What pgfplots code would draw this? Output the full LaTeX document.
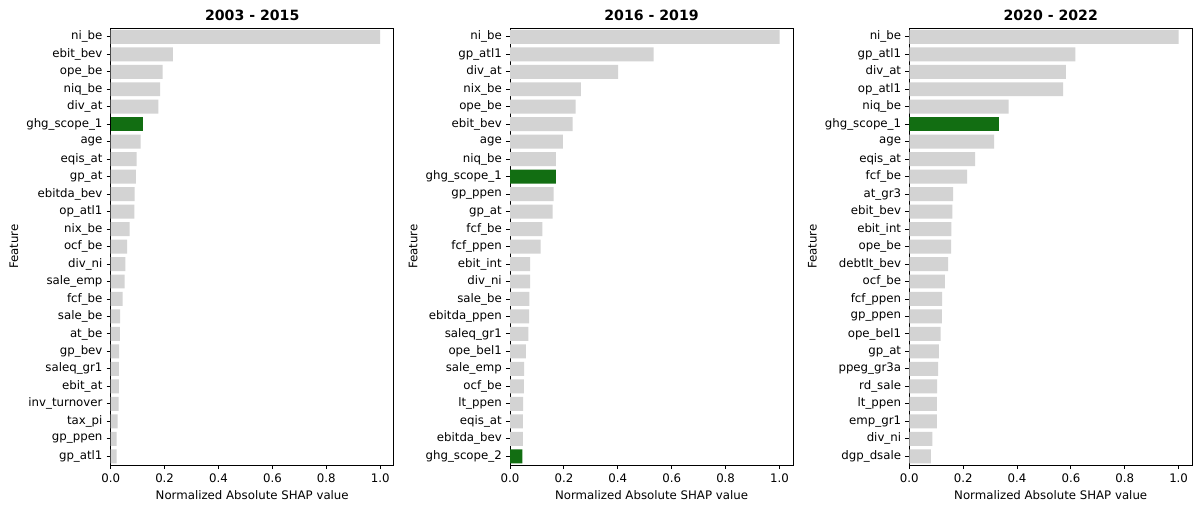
\documentclass[border=0pt]{standalone}
\usepackage{pgfplots}
\pgfplotsset{compat=1.18}
\usepackage{fontspec}
\setmainfont{DejaVu Sans}
\definecolor{barg}{RGB}{211,211,211}
\definecolor{hl}{RGB}{18,110,18}
\pgfplotsset{
  shap/.style={
    scale only axis,
    width=240.5pt, height=371.4pt,
    anchor=south west,
    xbar, bar width=0.8, bar shift=0pt,
    xmin=0, xmax=1.05,
    ymin=-0.5, ymax=24.5,
    y dir=reverse,
    ytick={0,...,24},
    xtick={0,0.2,0.4,0.6,0.8,1.0},
    xticklabel style={/pgf/number format/.cd, fixed, fixed zerofill, precision=1},
    /pgf/number format/assume math mode=true,
    tick align=outside,
    tick pos=left,
    major tick length=3.5pt,
    axis line style={line width=0.8pt},
    every tick/.style={line width=0.8pt, black},
    tick label style={font=\fontsize{10}{12}\selectfont},
    xlabel={Normalized Absolute SHAP value},
    ylabel={Feature},
    label style={font=\fontsize{10}{12}\selectfont},
    title style={font=\bfseries\fontsize{12}{14}\selectfont, at={(0.5,1)}, anchor=south, yshift=-3.5pt},
    every axis plot/.append style={draw=none},
  }
}
\begin{document}
\begin{tikzpicture}
\useasboundingbox (0,0) rectangle (1014pt,429.25pt);
% Panel 1
\begin{axis}[shap, at={(94.1pt,34pt)}, title={2003 - 2015},
  yticklabels={ni\_be,ebit\_bev,ope\_be,niq\_be,div\_at,ghg\_scope\_1,age,eqis\_at,gp\_at,ebitda\_bev,op\_atl1,nix\_be,ocf\_be,div\_ni,sale\_emp,fcf\_be,sale\_be,at\_be,gp\_bev,saleq\_gr1,ebit\_at,inv\_turnover,tax\_pi,gp\_ppen,gp\_atl1}]
\addplot[fill=barg] coordinates {(1.0,0) (0.231,1) (0.193,2) (0.183,3) (0.177,4) (0.111,6) (0.0965,7) (0.093,8) (0.089,9) (0.088,10) (0.0705,11) (0.0605,12) (0.054,13) (0.052,14) (0.0445,15) (0.0345,16) (0.034,17) (0.031,18) (0.0305,19) (0.030,20) (0.0295,21) (0.026,22) (0.022,23) (0.0215,24)};
\addplot[fill=hl] coordinates {(0.119,5)};
\end{axis}
% Panel 2
\begin{axis}[shap, at={(433.5pt,34pt)}, title={2016 - 2019},
  yticklabels={ni\_be,gp\_atl1,div\_at,nix\_be,ope\_be,ebit\_bev,age,niq\_be,ghg\_scope\_1,gp\_ppen,gp\_at,fcf\_be,fcf\_ppen,ebit\_int,div\_ni,sale\_be,ebitda\_ppen,saleq\_gr1,ope\_bel1,sale\_emp,ocf\_be,lt\_ppen,eqis\_at,ebitda\_bev,ghg\_scope\_2}]
\addplot[fill=barg] coordinates {(1.0,0) (0.533,1) (0.401,2) (0.263,3) (0.243,4) (0.232,5) (0.196,6) (0.170,7) (0.162,9) (0.158,10) (0.120,11) (0.1135,12) (0.075,13) (0.0745,14) (0.0715,15) (0.071,16) (0.068,17) (0.059,18) (0.052,19) (0.051,20) (0.049,21) (0.048,22) (0.048,23)};
\addplot[fill=hl] coordinates {(0.170,8) (0.046,24)};
\end{axis}
% Panel 3
\begin{axis}[shap, at={(772.9pt,34pt)}, width=240.3pt, title={2020 - 2022},
  yticklabels={ni\_be,gp\_atl1,div\_at,op\_atl1,niq\_be,ghg\_scope\_1,age,eqis\_at,fcf\_be,at\_gr3,ebit\_bev,ebit\_int,ope\_be,debtlt\_bev,ocf\_be,fcf\_ppen,gp\_ppen,ope\_bel1,gp\_at,ppeg\_gr3a,rd\_sale,lt\_ppen,emp\_gr1,div\_ni,dgp\_dsale}]
\addplot[fill=barg] coordinates {(1.0,0) (0.617,1) (0.581,2) (0.571,3) (0.369,4) (0.315,6) (0.244,7) (0.2145,8) (0.1625,9) (0.160,10) (0.156,11) (0.155,12) (0.144,13) (0.1315,14) (0.1215,15) (0.121,16) (0.1165,17) (0.110,18) (0.1065,19) (0.103,20) (0.1025,21) (0.102,22) (0.0855,23) (0.0795,24)};
\addplot[fill=hl] coordinates {(0.333,5)};
\end{axis}
\end{tikzpicture}
\end{document}
